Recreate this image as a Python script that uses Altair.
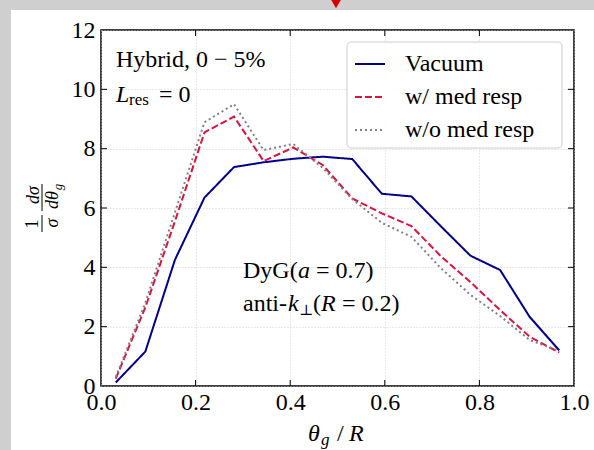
import altair as alt
import pandas as pd

# Bin centres of theta_g / R (16 equal bins on [0, 1])
theta_centres = [0.03125, 0.09375, 0.15625, 0.21875, 0.28125, 0.34375, 0.40625, 0.46875,
                 0.53125, 0.59375, 0.65625, 0.71875, 0.78125, 0.84375, 0.90625, 0.96875]

# Normalised distributions 1/sigma dsigma/dtheta_g
vacuum = [0.12, 1.16, 4.25, 6.35, 7.38, 7.54, 7.66, 7.73,
          7.65, 6.48, 6.39, 5.38, 4.39, 3.91, 2.33, 1.20]
with_med_resp = [0.25, 2.65, 5.55, 8.55, 9.08, 7.58, 8.04, 7.45,
                 6.32, 5.82, 5.39, 4.37, 3.50, 2.56, 1.66, 1.13]
without_med_resp = [0.30, 2.80, 5.85, 8.89, 9.50, 7.95, 8.16, 7.35,
                    6.30, 5.50, 5.03, 3.97, 3.07, 2.36, 1.55, 1.18]

series_names = ["Vacuum", "w/ med resp", "w/o med resp"]
series_colors = ["#00008b", "#dc143c", "#808080"]
series_dashes = [[1, 0], [7, 3], [2, 3]]

x_tick_values = [0.0, 0.2, 0.4, 0.6, 0.8, 1.0]
y_tick_values = [0, 2, 4, 6, 8, 10, 12]
x_inner_ticks = [0.2, 0.4, 0.6, 0.8]
y_inner_ticks = [2, 4, 6, 8, 10]

FONT = "Liberation Serif, DejaVu Serif"
W, H = 473, 356

rows = []
for name, vals in zip(series_names, [vacuum, with_med_resp, without_med_resp]):
    for t, v in zip(theta_centres, vals):
        rows.append({"theta": t, "value": v, "series": name})
curves = pd.DataFrame(rows)

one = pd.DataFrame({"k": [0]})
xs = alt.Scale(domain=[0, 1], nice=False, zero=False)
ys = alt.Scale(domain=[0, 12], nice=False, zero=False)

grid_kw = dict(grid=True, gridDash=[1, 2], gridColor="#c8c8c8", gridWidth=0.8,
               domain=False, ticks=False, tickSize=0, title=None,
               labelFont=FONT, labelFontSize=24, labelColor="black")
x_axis = alt.Axis(values=x_tick_values, format=".1f", labelPadding=4,
                  labelFlush=False, **grid_kw)
y_axis = alt.Axis(values=y_tick_values, format="d", labelPadding=6, **grid_kw)

lines = alt.Chart(curves).mark_line(strokeWidth=2, strokeCap="butt").encode(
    x=alt.X("theta:Q", scale=xs, axis=x_axis),
    y=alt.Y("value:Q", scale=ys, axis=y_axis),
    color=alt.Color("series:N", sort=series_names,
                    scale=alt.Scale(domain=series_names, range=series_colors),
                    legend=alt.Legend(title=None, orient="none", legendX=247, legendY=12,
                                      symbolType="stroke", symbolSize=900,
                                      symbolStrokeWidth=2, labelFont=FONT,
                                      labelFontSize=24, labelColor="black",
                                      labelOffset=19, rowPadding=5, padding=6)),
    strokeDash=alt.StrokeDash("series:N", sort=series_names,
                              scale=alt.Scale(domain=series_names, range=series_dashes),
                              legend=alt.Legend(title=None)),
    order=alt.Order("theta:Q"),
)

# Rounded frame drawn behind the legend entries
legend_frame = alt.Chart(one).mark_rect(
    fill="white", fillOpacity=0.85, stroke="#cccccc", strokeWidth=1, cornerRadius=4,
).encode(x=alt.value(246), x2=alt.value(461), y=alt.value(12), y2=alt.value(118))

# Grey page frame and top marker
frame_left = alt.Chart(one).mark_rect(color="#d0cfcf").encode(
    x=alt.value(-101), x2=alt.value(-90), y=alt.value(-30), y2=alt.value(H + 64))
frame_top = alt.Chart(one).mark_rect(color="#d0cfcf").encode(
    x=alt.value(-101), x2=alt.value(W + 20), y=alt.value(-30), y2=alt.value(-20))
marker = alt.Chart(one).mark_point(shape="triangle-down", filled=True, color="#d40000",
                                   size=100, opacity=1).encode(
    x=alt.value(235), y=alt.value(-26))

# Inward ticks on all four sides
xt = pd.DataFrame({"tx": x_inner_ticks})
yt = pd.DataFrame({"ty": y_inner_ticks})
tick_style = dict(color="black", strokeWidth=1)
ticks_bottom = alt.Chart(xt).mark_rule(**tick_style).encode(
    x=alt.X("tx:Q", scale=xs, axis=x_axis), y=alt.value(H), y2=alt.value(H - 6))
ticks_top = alt.Chart(xt).mark_rule(**tick_style).encode(
    x=alt.X("tx:Q", scale=xs, axis=x_axis), y=alt.value(0), y2=alt.value(6))
ticks_left = alt.Chart(yt).mark_rule(**tick_style).encode(
    y=alt.Y("ty:Q", scale=ys, axis=y_axis), x=alt.value(0), x2=alt.value(6))
ticks_right = alt.Chart(yt).mark_rule(**tick_style).encode(
    y=alt.Y("ty:Q", scale=ys, axis=y_axis), x=alt.value(W), x2=alt.value(W - 6))


def label(text, x, y, size=24, italic=False, angle=0, align="left", baseline="alphabetic"):
    return alt.Chart(one).mark_text(
        text=text, font=FONT, fontSize=size, fontStyle="italic" if italic else "normal",
        angle=angle, align=align, baseline=baseline, color="black",
    ).encode(x=alt.value(x), y=alt.value(y))


def bar(x, y1, y2):
    return alt.Chart(one).mark_rule(color="black", strokeWidth=1).encode(
        x=alt.value(x), y=alt.value(y1), y2=alt.value(y2))


texts = [
    # panel labels
    label("Hybrid, 0 \u2212 5%", 15, 37),
    label("L", 15, 72, italic=True),
    label("res", 28, 75, size=17),
    label("= 0", 58, 72),
    label("DyG(", 142, 248),
    label("a", 197, 248, italic=True),
    label("= 0.7)", 215, 248),
    label("anti-", 142, 281),
    label("k", 187, 281, italic=True),
    label("\u22a5", 198, 285, size=15),
    label("(", 212, 281),
    label("R", 220, 281, italic=True),
    label("= 0.2)", 241, 281),
    # x-axis title
    label("\u03b8", 207, 411, italic=True),
    label("g", 220, 415, size=17, italic=True),
    label("/", 236, 411),
    label("R", 248, 411, italic=True),
    # y-axis title: (1/sigma)(dsigma/dtheta_g)
    label("1", -63, 194, size=18, angle=270, align="center"),
    label("\u03c3", -43, 193, size=18, italic=True, angle=270, align="center"),
    label("d\u03c3", -62, 165, size=18, italic=True, angle=270, align="center"),
    label("d\u03b8", -43, 170, size=18, italic=True, angle=270, align="center"),
    label("g", -39, 157, size=13, italic=True, angle=270, align="center"),
    bar(-59, 185, 202),
    bar(-59, 154, 181),
]

chart = alt.layer(
    lines,
    frame_left, frame_top, marker, legend_frame,
    ticks_bottom, ticks_top, ticks_left, ticks_right,
    *texts,
).properties(
    width=W, height=H,
    padding={"left": 101, "top": 30, "right": 20, "bottom": 64},
    autosize=alt.AutoSizeParams(type="none"),
    background="white",
).configure_view(
    stroke="black", strokeWidth=1.5, fill="white",
).resolve_legend(color="shared", strokeDash="shared")

chart.save("out.html", embed_options={"renderer": "svg", "actions": False})
